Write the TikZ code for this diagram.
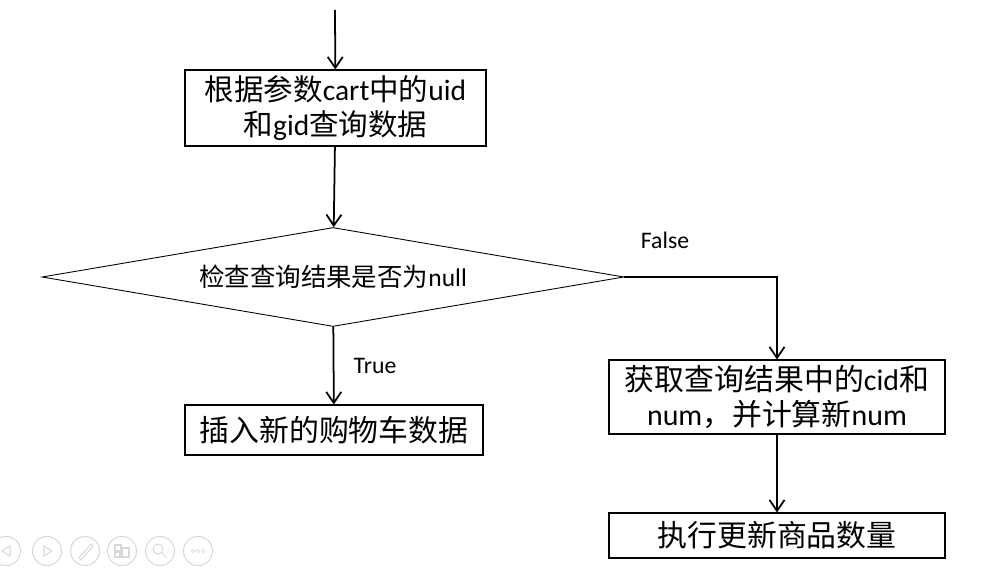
\documentclass[tikz,border=0pt]{standalone}
\usepackage{fontspec}
\setmainfont{Carlito}
\newfontfamily\cjk{Noto Sans CJK SC}
\usepackage{tikz}
\usetikzlibrary{positioning, arrows.meta, shapes.geometric}

\begin{document}
\begin{tikzpicture}[
                  box/.style={draw, line width=0.6pt, align=center, inner sep=2pt},
                  decision/.style={draw, diamond, line width=0.5pt, inner sep=0pt, aspect=5.88,
                              minimum width=11.64cm, minimum height=1.98cm,
                              font=\fontsize{14.5}{18}\selectfont},
                  flow/.style={line width=1pt, -{Straight Barb[length=2.2mm, width=3mm]}},
                  tag/.style={font=\fontsize{13.5}{16}\selectfont},
                  icon/.style={gray!30, line width=0.6pt},
            ]
            \useasboundingbox (0,0) rectangle (19.86,-11.44);

            % Entry point
            \coordinate (entry) at (6.7,-0.2);

            % Boxes of the flow
            \node[box, minimum width=6.02cm, minimum height=1.52cm,
                  font=\fontsize{16.8}{20}\selectfont] (query) at (6.71,-2.16)
            {{\cjk 根据参数}cart{\cjk 中的}uid\\{\cjk 和}gid{\cjk 查询数据}};
            \node[decision] (check) at (6.66,-5.54) {{\cjk 检查查询结果是否为}null};
            \node[box, minimum width=5.96cm, minimum height=1.0cm,
                  font=\fontsize{17}{20}\selectfont] (insert) at (6.68,-8.6)
            {\cjk 插入新的购物车数据};
            \node[box, minimum width=6.72cm, minimum height=1.48cm,
                  font=\fontsize{17}{20}\selectfont] (fetch) at (15.54,-7.94)
            {{\cjk 获取查询结果中的}cid{\cjk 和}\\num{\cjk ，并计算新}num};
            \node[box, minimum width=6.72cm, minimum height=0.9cm,
                  font=\fontsize{17}{20}\selectfont] (update) at (15.54,-10.71)
            {\cjk 执行更新商品数量};

            % Connectors
            \draw[flow] (entry) -- (query);
            \draw[flow] (query) -- (check);
            \draw[flow] (check) -- (insert);
            \draw[flow] (check.east) -| (fetch.north);
            \draw[flow] (fetch) -- (update);

            % Branch labels
            \node[tag] (yes) at (7.5,-7.32) {True};
            \node[tag] (no) at (13.3,-4.8) {False};

            % Slide-show controls, bottom left
            \foreach \i/\x in {0/0.12, 1/0.94, 2/1.7, 3/2.44, 4/3.2, 5/3.96}{
                  \draw[icon] (\x,-11.02) circle (0.29);
            }
            \draw[icon] (0.2,-10.92) -- (0.04,-11.02) -- (0.2,-11.12) -- cycle;
            \draw[icon] (0.88,-10.92) -- (1.04,-11.02) -- (0.88,-11.12) -- cycle;
            \draw[icon] (1.58,-11.16) -- (1.82,-10.88) -- (1.86,-10.92) -- (1.62,-11.2) -- cycle;
            \draw[icon] (2.3,-10.9) rectangle (2.42,-11.02);
            \draw[icon] (2.44,-10.96) rectangle (2.58,-11.14);
            \draw[icon] (2.3,-11.04) rectangle (2.4,-11.14);
            \draw[icon] (3.16,-10.98) circle (0.1);
            \draw[icon] (3.23,-11.05) -- (3.34,-11.16);
            \foreach \d in {-0.1, 0, 0.1}{
                  \draw[icon, line width=0.4pt] (3.96+\d,-11.02) circle (0.035);
            }
      \end{tikzpicture}
\end{document}
